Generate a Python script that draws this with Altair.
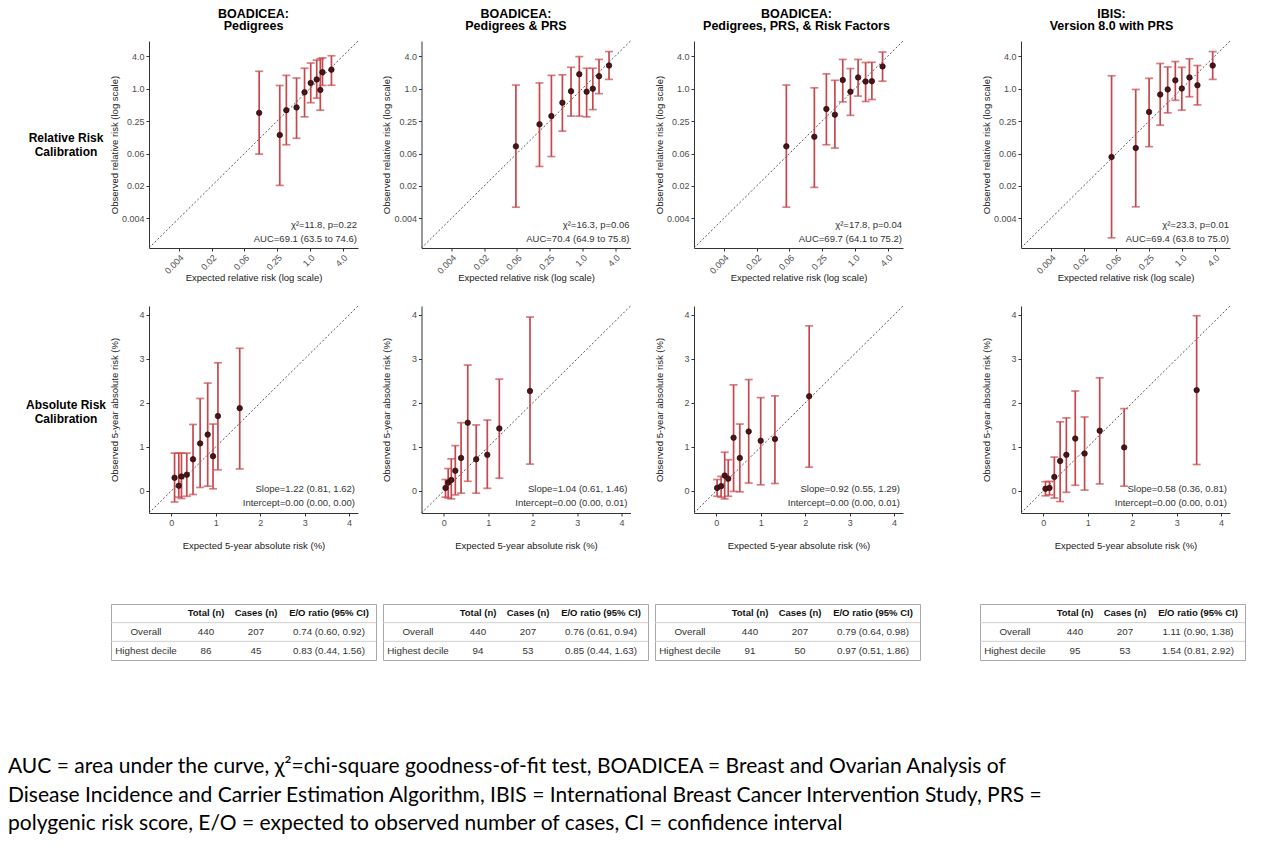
import altair as alt
import pandas as pd

FONT = "Liberation Sans"

# ---------------- data ----------------
panel_titles = [
    ["BOADICEA:", "Pedigrees"],
    ["BOADICEA:", "Pedigrees & PRS"],
    ["BOADICEA:", "Pedigrees, PRS, & Risk Factors"],
    ["IBIS:", "Version 8.0 with PRS"],
]
row_labels = ["Relative Risk\nCalibration", "Absolute Risk\nCalibration"]

# relative risk calibration (deciles)
rr_expected = [
    [0.117, 0.28, 0.37, 0.57, 0.80, 1.04, 1.34, 1.56, 1.71, 2.5],
    [0.06, 0.163, 0.27, 0.43, 0.62, 0.88, 1.2, 1.56, 2.03, 3.1],
    [0.055, 0.18, 0.30, 0.43, 0.60, 0.83, 1.15, 1.58, 2.06, 3.24],
    [0.051, 0.142, 0.25, 0.40, 0.55, 0.76, 1.0, 1.38, 1.94, 3.7],
]
rr_observed = [
    [0.356, 0.138, 0.40, 0.45, 0.86, 1.28, 1.49, 0.95, 2.03, 2.26],
    [0.085, 0.218, 0.31, 0.55, 0.90, 1.86, 0.88, 1.0, 1.71, 2.7],
    [0.085, 0.128, 0.42, 0.33, 1.45, 0.88, 1.62, 1.36, 1.38, 2.6],
    [0.054, 0.079, 0.37, 0.78, 0.97, 1.43, 1.01, 1.62, 1.16, 2.7],
]
rr_lower = [
    [0.061, 0.016, 0.091, 0.12, 0.30, 0.55, 0.67, 0.40, 1.15, 1.16],
    [0.0063, 0.036, 0.055, 0.163, 0.31, 0.31, 0.30, 0.41, 0.81, 1.49],
    [0.0063, 0.0147, 0.091, 0.079, 0.57, 0.32, 0.73, 0.58, 0.63, 1.38],
    [0.0017, 0.0064, 0.084, 0.21, 0.356, 0.61, 0.40, 0.71, 0.5, 1.49],
]
rr_upper = [
    [2.11, 1.15, 1.77, 1.58, 2.4, 3.0, 3.4, 3.6, 3.75, 4.1],
    [1.17, 1.28, 1.77, 1.81, 2.5, 3.95, 2.4, 2.4, 3.5, 4.9],
    [1.17, 1.04, 1.89, 1.43, 3.5, 2.37, 3.5, 3.07, 3.1, 4.8],
    [1.74, 0.97, 1.56, 2.94, 2.54, 3.2, 2.5, 3.6, 2.7, 4.9],
]

# absolute risk calibration (deciles, %)
ar_expected = [
    [0.075, 0.17, 0.23, 0.35, 0.49, 0.65, 0.82, 0.94, 1.05, 1.54],
    [0.04, 0.10, 0.17, 0.26, 0.39, 0.54, 0.73, 0.98, 1.25, 1.94],
    [0.02, 0.11, 0.19, 0.27, 0.39, 0.53, 0.73, 1.00, 1.32, 2.09],
    [0.05, 0.14, 0.25, 0.38, 0.52, 0.72, 0.93, 1.27, 1.82, 3.45],
]
ar_observed = [
    [0.30, 0.12, 0.33, 0.37, 0.72, 1.08, 1.28, 0.79, 1.70, 1.88],
    [0.07, 0.19, 0.25, 0.46, 0.75, 1.55, 0.72, 0.82, 1.42, 2.27],
    [0.07, 0.11, 0.35, 0.28, 1.21, 0.75, 1.35, 1.14, 1.18, 2.15],
    [0.05, 0.07, 0.32, 0.68, 0.82, 1.19, 0.85, 1.37, 0.99, 2.29],
]
ar_lower = [
    [-0.25, -0.14, -0.17, -0.12, -0.08, 0.08, 0.11, 0.05, 0.48, 0.50],
    [-0.14, -0.16, -0.18, -0.09, -0.05, 0.22, -0.05, 0.06, 0.29, 0.61],
    [-0.12, -0.14, -0.18, -0.12, -0.01, -0.02, 0.18, 0.14, 0.17, 0.54],
    [-0.11, -0.09, -0.16, -0.24, -0.03, 0.13, 0.02, 0.16, 0.11, 0.60],
]
ar_upper = [
    [0.86, 0.86, 0.86, 0.86, 1.51, 2.10, 2.45, 1.52, 2.91, 3.24],
    [0.26, 0.51, 0.73, 1.03, 1.55, 2.86, 1.50, 1.61, 2.54, 3.95],
    [0.26, 0.33, 0.88, 0.71, 2.41, 1.52, 2.53, 2.12, 2.16, 3.75],
    [0.21, 0.22, 0.77, 1.57, 1.66, 2.27, 1.68, 2.57, 1.87, 3.98],
]

chi_text = ["χ²=11.8, p=0.22", "χ²=16.3, p=0.06", "χ²=17.8, p=0.04", "χ²=23.3, p=0.01"]
auc_text = ["AUC=69.1 (63.5 to 74.6)", "AUC=70.4 (64.9 to 75.8)",
            "AUC=69.7 (64.1 to 75.2)", "AUC=69.4 (63.8 to 75.0)"]
slope_text = ["Slope=1.22 (0.81, 1.62)", "Slope=1.04 (0.61, 1.46)",
              "Slope=0.92 (0.55, 1.29)", "Slope=0.58 (0.36, 0.81)"]
intercept_text = ["Intercept=0.00 (0.00, 0.00)", "Intercept=0.00 (0.00, 0.01)",
                  "Intercept=0.00 (0.00, 0.01)", "Intercept=0.00 (0.00, 0.01)"]

rr_tick_values = [4 ** -4, 4 ** -3, 4 ** -2, 4 ** -1, 1, 4]
rr_tick_labels = ["0.004", "0.02", "0.06", "0.25", "1.0", "4.0"]
ar_tick_values = [0, 1, 2, 3, 4]

# tables
table_cols = ["", "Total (n)", "Cases (n)", "E/O ratio (95% CI)"]
table_rows = ["Overall", "Highest decile"]
total_n = [[440, 86], [440, 94], [440, 91], [440, 95]]
cases_n = [[207, 45], [207, 53], [207, 50], [207, 53]]
eo_ratio = [
    ["0.74 (0.60, 0.92)", "0.83 (0.44, 1.56)"],
    ["0.76 (0.61, 0.94)", "0.85 (0.44, 1.63)"],
    ["0.79 (0.64, 0.98)", "0.97 (0.51, 1.86)"],
    ["1.11 (0.90, 1.38)", "1.54 (0.81, 2.92)"],
]

footnote_lines = [
    "AUC = area under the curve, χ²=chi-square goodness-of-fit test, BOADICEA = Breast and Ovarian Analysis of",
    "Disease Incidence and Carrier Estimation Algorithm, IBIS = International Breast Cancer Intervention Study, PRS =",
    "polygenic risk score, E/O = expected to observed number of cases, CI = confidence interval",
]

# ---------------- style / layout ----------------
W, H = 209, 207
RR_DOMAIN = [0.0011, 7.7]
AR_DOMAIN = [-0.5, 4.2]
ERR = "#c8474d"
PT = "#4a1518"
title_dx = [0, -10, -2, -14]


def label_expr(vals, labs):
    expr = f"'{labs[-1]}'"
    for v, l in reversed(list(zip(vals[:-1], labs[:-1]))):
        expr = f"datum.value < {v * 2} ? '{l}' : " + expr
    return expr


def axis(title, values, lexpr=None, extent=25, tpad=5, angle=None):
    kw = dict(title=title, values=values, grid=False, domainColor="#333333",
              domainWidth=1, tickColor="#333333", tickSize=3, labelFontSize=9,
              labelColor="#4d4d4d", labelFont=FONT, titleFont=FONT,
              titleFontSize=9.5, titleFontWeight="normal", titleColor="#1a1a1a",
              minExtent=extent, maxExtent=extent, titlePadding=tpad, labelPadding=2)
    if lexpr:
        kw["labelExpr"] = lexpr
    if angle is not None:
        kw.update(labelAngle=angle, labelAlign="right", labelBaseline="top")
    return alt.Axis(**kw)


def panel(i, kind):
    if kind == "rr":
        df = pd.DataFrame({"exp": rr_expected[i], "obs": rr_observed[i],
                           "lo": rr_lower[i], "hi": rr_upper[i]})
        dom = RR_DOMAIN
        sc = alt.Scale(type="log", base=4, domain=dom, nice=False)
        lx = label_expr(rr_tick_values, rr_tick_labels)
        xa = axis("Expected relative risk (log scale)", rr_tick_values, lx,
                  extent=22, tpad=2, angle=315)
        ya = axis("Observed relative risk (log scale)", rr_tick_values, lx)
        t1, t2 = chi_text[i], auc_text[i]
        tx, ty1, ty2 = W - 1, H - 20.5, H - 6
    else:
        df = pd.DataFrame({"exp": ar_expected[i], "obs": ar_observed[i],
                           "lo": ar_lower[i], "hi": ar_upper[i]})
        dom = AR_DOMAIN
        sc = alt.Scale(domain=dom, nice=False, zero=False)
        xa = axis("Expected 5-year absolute risk (%)", ar_tick_values, extent=25, tpad=2)
        ya = axis("Observed 5-year absolute risk (%)", ar_tick_values)
        t1, t2 = slope_text[i], intercept_text[i]
        tx, ty1, ty2 = W - 3, H - 21, H - 7

    def X(f):
        return alt.X(f"{f}:Q", scale=sc, axis=xa)

    def Y(f):
        return alt.Y(f"{f}:Q", scale=sc, axis=ya)

    diag = alt.Chart(pd.DataFrame({"v": dom})).mark_line(
        color="#555555", strokeDash=[2, 2], strokeWidth=1
    ).encode(x=X("v"), y=Y("v"))
    base = alt.Chart(df)
    bars = base.mark_rule(color=ERR, strokeWidth=1.7).encode(x=X("exp"), y=Y("lo"), y2="hi:Q")
    cap_lo = base.mark_tick(color=ERR, orient="horizontal", size=8, thickness=1.7).encode(
        x=X("exp"), y=Y("lo"))
    cap_hi = base.mark_tick(color=ERR, orient="horizontal", size=8, thickness=1.7).encode(
        x=X("exp"), y=Y("hi"))
    pts = base.mark_circle(size=30, color=PT, opacity=1, stroke="#240808",
                           strokeWidth=0.7).encode(x=X("exp"), y=Y("obs"))
    txt_kw = dict(align="right", baseline="alphabetic", fontSize=9.5, font=FONT,
                  color="#333333")
    a1 = alt.Chart(pd.DataFrame({"t": [t1]})).mark_text(**txt_kw).encode(
        x=alt.value(tx), y=alt.value(ty1), text="t:N")
    a2 = alt.Chart(pd.DataFrame({"t": [t2]})).mark_text(**txt_kw).encode(
        x=alt.value(tx), y=alt.value(ty2), text="t:N")
    ch = alt.layer(diag, bars, cap_lo, cap_hi, pts, a1, a2).properties(width=W, height=H)
    if kind == "rr":
        ch = ch.properties(title=alt.TitleParams(
            text=panel_titles[i], fontSize=12.5, fontWeight="bold", font=FONT,
            anchor="middle", frame="group", offset=6.5, lineHeight=12,
            color="#000000", dx=title_dx[i]))
    return ch


def spacer(w, h=2):
    return alt.Chart(pd.DataFrame({"a": [0]})).mark_point(opacity=0, size=1).encode(
        x=alt.value(w / 2), y=alt.value(h / 2)).properties(width=w, height=h)


def row_label(text, ly):
    return alt.Chart(pd.DataFrame({"t": [text]})).mark_text(
        lineBreak="\n", fontWeight="bold", fontSize=12, font=FONT, align="center",
        baseline="middle", lineHeight=14, color="#000000"
    ).encode(x=alt.value(58), y=alt.value(ly), text="t:N").properties(width=101, height=200)


def make_row(kind, label, ly):
    ps = [panel(i, kind) for i in range(4)]
    inner = alt.hconcat(ps[0], ps[1], ps[2], spacer(32.5), ps[3], spacing=21.5)
    return alt.hconcat(row_label(label, ly), inner, spacing=0)


def table(i):
    tw, th = 265, 56
    col_x = [35, 95, 145, 218]
    rs = alt.Scale(domain=["hdr"] + table_rows, paddingInner=0, paddingOuter=0)
    body_vals = [table_rows, [str(v) for v in total_n[i]], [str(v) for v in cases_n[i]],
                 eo_ratio[i]]
    layers = []
    rules = alt.Chart(pd.DataFrame({"row": table_rows})).mark_rule(
        color="#cfcfcf", strokeWidth=1).encode(
        y=alt.Y("row:N", scale=rs, axis=None, bandPosition=0))
    layers.append(rules)
    for c in range(4):
        if table_cols[c]:
            layers.append(alt.Chart(pd.DataFrame({"row": ["hdr"], "t": [table_cols[c]]}))
                          .mark_text(fontWeight="bold", fontSize=9.5, font=FONT, color="#111111")
                          .encode(x=alt.value(col_x[c]),
                                  y=alt.Y("row:N", scale=rs, axis=None), text="t:N"))
        layers.append(alt.Chart(pd.DataFrame({"row": table_rows, "t": body_vals[c]}))
                      .mark_text(fontSize=9.8, font=FONT, color="#333333")
                      .encode(x=alt.value(col_x[c]),
                              y=alt.Y("row:N", scale=rs, axis=None), text="t:N"))
    return alt.layer(*layers).properties(
        width=tw, height=th, view=alt.ViewBackground(stroke="#a8a8a8", strokeWidth=1))


row1 = make_row("rr", row_labels[0], 97)
row2 = make_row("ar", row_labels[1], 99)

tables = alt.hconcat(spacer(97), table(0), table(1), table(2), spacer(48), table(3), spacing=5)

footnote = alt.Chart(pd.DataFrame({"t": ["\n".join(footnote_lines)]})).mark_text(
    align="left", baseline="alphabetic", lineBreak="\n", lineHeight=28.7,
    fontSize=21, font="Lato", color="#000000"
).encode(x=alt.value(0), y=alt.value(25), text="t:N").properties(width=1264, height=85)

chart = alt.vconcat(
    alt.vconcat(alt.vconcat(row1, row2, spacing=22), tables, spacing=53),
    footnote, spacing=87
).properties(padding=0).configure(font=FONT).configure_view(stroke=None)

chart.save("out.html", embed_options={"renderer": "svg", "actions": False})
